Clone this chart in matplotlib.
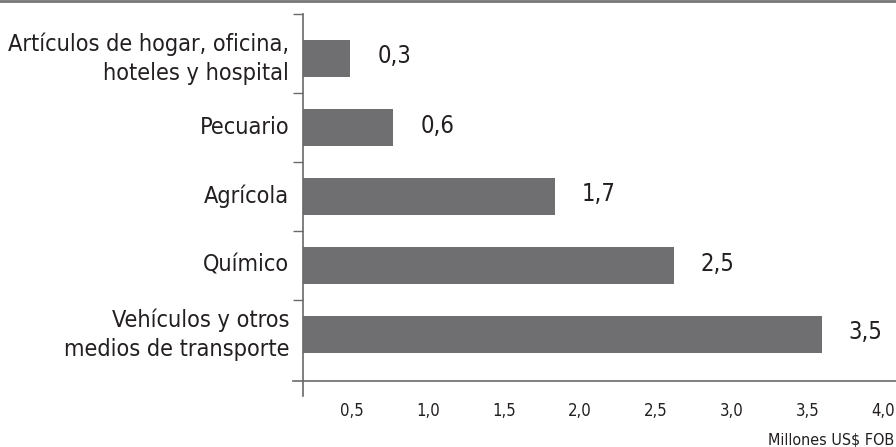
import matplotlib.pyplot as plt
import matplotlib.transforms as mtransforms
import numpy as np

# data (Millones US$ FOB)
categories = ["Artículos de hogar, oficina,\nhoteles y hospital",
              "Pecuario",
              "Agrícola",
              "Químico",
              "Vehículos y otros\nmedios de transporte"]
values = [0.32, 0.61, 1.70, 2.50, 3.50]
x_ticks = [0.5, 1.0, 1.5, 2.0, 2.5, 3.0, 3.5, 4.0]
x_tick_labels = ["0,5", "1,0", "1,5", "2,0", "2,5", "3,0", "3,5", "4,0"]

plt.rcParams['font.family'] = ['DejaVu Sans']
plt.rcParams['font.stretch'] = 'condensed'
bar_colour = "#6f6f72"
text_colour = "#231f20"
line_colour = "#6a6a6a"

fig = plt.figure(figsize=(8.96, 4.47), dpi=100)
ax = fig.add_axes([303 / 896, 1 - 381 / 447, 593 / 896, 367 / 447])

y_pos = np.arange(len(categories))
ax.barh(y_pos, values, height=0.55, color=bar_colour, zorder=2)
ax.set_xlim(0, 4.0)
ax.set_ylim(4.5 + 12 / 69, -0.5 - 10 / 69)

# value labels
for y, v in zip(y_pos, values):
    ax.annotate(("%.1f" % v).replace(".", ","), xy=(v, y), xytext=(27, 2),
                textcoords="offset pixels", va="center", ha="left",
                fontsize=17, color=text_colour)

# category labels + boundary ticks
ax.set_yticks(y_pos)
ax.set_yticklabels(categories, fontsize=16.8, color=text_colour, linespacing=1.35, va="center")
ax.tick_params(axis="y", which="major", length=0, pad=10)
ax.set_yticks(list(np.arange(0.5, len(categories) - 1, 1.0)) + [ax.get_ylim()[1]], minor=True)
ax.tick_params(axis="y", which="minor", length=7, width=1, color=line_colour, direction="out")

# x axis labels, shifted a bit left like the original
ax.set_xticks(x_ticks)
ax.set_xticklabels(x_tick_labels, fontsize=12, color=text_colour)
ax.tick_params(axis="x", length=0, pad=15)
for i, lbl in enumerate(ax.get_xticklabels()):
    shift = mtransforms.ScaledTranslation((-25 + 1.8 * i) / 100, 0, fig.dpi_scale_trans)
    lbl.set_transform(lbl.get_transform() + shift)

for side in ["top", "right", "bottom", "left"]:
    ax.spines[side].set_visible(False)
# axis lines crossing at the origin
ax.plot([-10 / 593, 1], [0, 0], transform=ax.transAxes, color=line_colour, lw=1.2, clip_on=False)
ax.plot([0, 0], [-15 / 367, 1], transform=ax.transAxes, color=line_colour, lw=1.2, clip_on=False)

# top rule
fig.add_artist(plt.Line2D([0, 1], [0.997, 0.997], color="#777777", lw=2))

fig.text(768 / 896, 1 - 440 / 447, "Millones US$ FOB", fontsize=11.5, color=text_colour,
         ha="left", va="center")

fig.savefig("out.png", dpi=100)
